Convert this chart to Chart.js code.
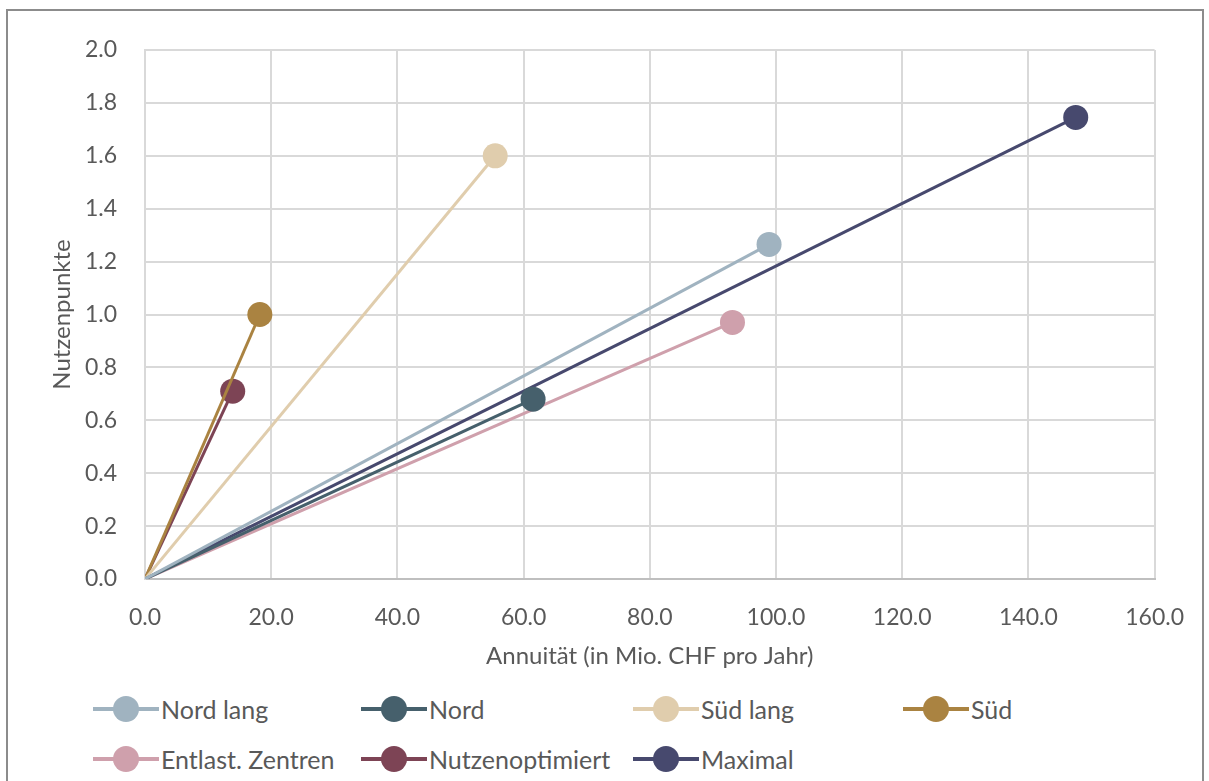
<!DOCTYPE html>
<html lang="de">

<head>
    <meta charset="UTF-8">
    <title>Nutzenpunkte vs. Annuität</title>
    <script src="https://cdn.jsdelivr.net/npm/chart.js"></script>
    <style>
        body {
            margin: 0;
            background: #fff;
            width: 1209px;
            height: 781px;
            overflow: hidden;
            position: relative;
            font-family: Lato, sans-serif;
        }

        .frame {
            position: absolute;
            left: 6px;
            top: 9px;
            width: 1198px;
            height: 790px;
            border: 2px solid #8c8c8c;
            box-sizing: border-box;
        }

        .chart-box {
            position: absolute;
            left: 0;
            top: 0;
            width: 1209px;
            height: 680px;
        }

        .legend {
            position: absolute;
            left: 93px;
            top: 690px;
            display: grid;
            grid-template-columns: 268px 272px 270px 200px;
            row-gap: 12px;
        }

        .legend-item {
            display: flex;
            align-items: center;
            height: 38px;
            font-size: 25px;
            color: #595959;
        }

        .legend-mark {
            position: relative;
            width: 66px;
            height: 26px;
            margin-right: 2px;
        }

        .legend-mark .line {
            position: absolute;
            left: 0;
            right: 0;
            top: 11px;
            height: 4px;
        }

        .legend-mark .dot {
            position: absolute;
            left: 20px;
            top: 0;
            width: 26px;
            height: 26px;
            border-radius: 50%;
        }
    </style>
</head>

<body>
    <div class="frame"></div>
    <div class="chart-box">
        <canvas id="chart"></canvas>
    </div>
    <div class="legend" id="legend"></div>

    <script>
        const seriesNames = ['Nord lang', 'Nord', 'Süd lang', 'Süd', 'Entlast. Zentren', 'Nutzenoptimiert', 'Maximal'];
        const annuitaet = [98.9, 61.5, 55.5, 18.2, 93.1, 13.9, 147.5];
        const nutzenpunkte = [1.265, 0.68, 1.60, 1.00, 0.97, 0.71, 1.745];
        const colors = ['#A0B3C0', '#46606C', '#E0CDAD', '#AA8341', '#CFA0AC', '#7D4455', '#47496E'];

        const xTicks = [0, 20, 40, 60, 80, 100, 120, 140, 160];
        const yTicks = [0, 0.2, 0.4, 0.6, 0.8, 1.0, 1.2, 1.4, 1.6, 1.8, 2.0];

        const textColor = '#595959';
        const tickFont = { family: 'Lato, sans-serif', size: 23 };
        const titleFont = { family: 'Lato, sans-serif', size: 24 };

        const datasets = seriesNames.map((name, i) => ({
            label: name,
            data: [{ x: 0, y: 0 }, { x: annuitaet[i], y: nutzenpunkte[i] }],
            showLine: true,
            borderColor: colors[i],
            backgroundColor: colors[i],
            borderWidth: 3,
            pointRadius: [0, 12.5],
            pointHoverRadius: [0, 12.5],
            pointBorderWidth: 0
        }));

        const ctx = document.getElementById('chart').getContext('2d');
        const chart = new Chart(ctx, {
            type: 'scatter',
            data: { datasets: datasets },
            options: {
                responsive: true,
                maintainAspectRatio: false,
                animation: false,
                layout: {
                    padding: { left: 46, right: 47, top: 50, bottom: 11 }
                },
                plugins: {
                    legend: { display: false },
                    tooltip: { enabled: false }
                },
                scales: {
                    x: {
                        type: 'linear',
                        min: xTicks[0],
                        max: xTicks[xTicks.length - 1],
                        afterBuildTicks: (scale) => {
                            scale.ticks = xTicks.map(v => ({ value: v }));
                        },
                        afterFit: (scale) => {
                            scale.height = 90;
                        },
                        ticks: {
                            color: textColor,
                            font: tickFont,
                            padding: 25,
                            maxRotation: 0,
                            callback: (v) => v.toFixed(1)
                        },
                        grid: {
                            color: '#d9d9d9',
                            lineWidth: 2,
                            drawTicks: false
                        },
                        border: { color: '#bfbfbf', width: 2 },
                        title: {
                            display: true,
                            text: 'Annuität (in Mio. CHF pro Jahr)',
                            color: textColor,
                            font: titleFont,
                            padding: { top: 0, bottom: -2 }
                        }
                    },
                    y: {
                        type: 'linear',
                        min: yTicks[0],
                        max: yTicks[yTicks.length - 1],
                        afterBuildTicks: (scale) => {
                            scale.ticks = yTicks.map(v => ({ value: v }));
                        },
                        afterFit: (scale) => {
                            scale.width = 99;
                        },
                        ticks: {
                            color: textColor,
                            font: tickFont,
                            padding: 28,
                            callback: (v) => v.toFixed(1)
                        },
                        grid: {
                            color: '#d9d9d9',
                            lineWidth: 2,
                            drawTicks: false
                        },
                        border: { color: '#d9d9d9', width: 2 },
                        title: {
                            display: true,
                            text: 'Nutzenpunkte',
                            color: textColor,
                            font: titleFont,
                            padding: { top: 2, bottom: 0 }
                        }
                    }
                }
            }
        });

        // legend: line with a dot, like the original
        const legendEl = document.getElementById('legend');
        seriesNames.forEach((name, i) => {
            const item = document.createElement('div');
            item.className = 'legend-item';
            item.innerHTML = '<span class="legend-mark"><span class="line" style="background:' + colors[i] +
                '"></span><span class="dot" style="background:' + colors[i] + '"></span></span>' + name;
            legendEl.appendChild(item);
        });
    </script>
</body>

</html>
